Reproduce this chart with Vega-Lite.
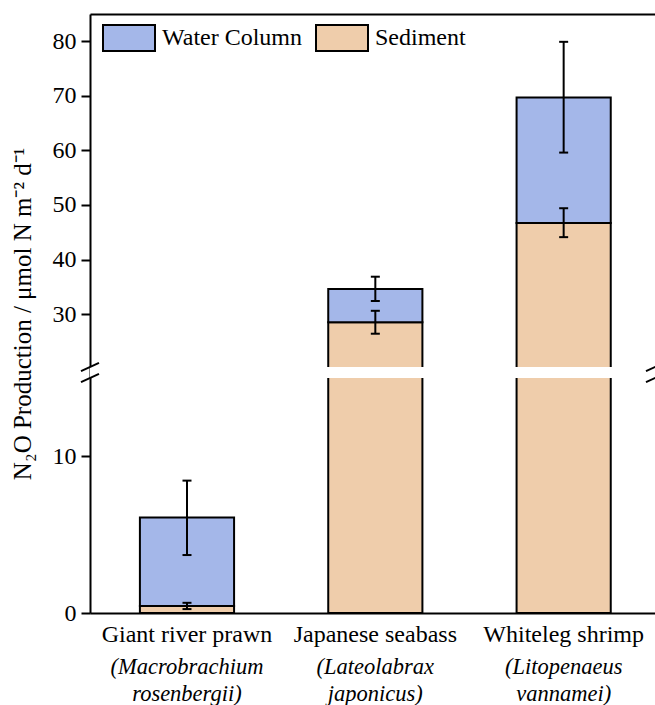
{
  "$schema": "https://vega.github.io/schema/vega-lite/v6.json",
  "width": 565,
  "height": 599,
  "autosize": {"type": "none"},
  "padding": {"left": 90, "top": 14, "right": 0, "bottom": 92},
  "config": {
    "font": "Liberation Serif, Times New Roman, serif",
    "view": {"stroke": null},
    "axis": {
      "labelFont": "Liberation Serif, Times New Roman, serif",
      "titleFont": "Liberation Serif, Times New Roman, serif",
      "domainColor": "black",
      "domainWidth": 2,
      "tickColor": "black",
      "tickWidth": 2,
      "labelColor": "black",
      "titleColor": "black",
      "labelFontSize": 24,
      "titleFontSize": 25,
      "titleFontWeight": "normal",
      "labelLimit": 300,
      "grid": false
    },
    "legend": {
      "labelFont": "Liberation Serif, Times New Roman, serif"
    }
  },
  "datasets": {
    "production": [
      {"species": "Giant river prawn", "latin": "(Macrobrachium rosenbergii)", "component": "Sediment", "start": 0, "end": 0.45, "lo": 0.25, "hi": 0.65},
      {"species": "Giant river prawn", "latin": "(Macrobrachium rosenbergii)", "component": "Water Column", "start": 0.45, "end": 6.1, "lo": 3.7, "hi": 8.45},
      {"species": "Japanese seabass", "latin": "(Lateolabrax japonicus)", "component": "Sediment", "start": 0, "end": 28.5, "lo": 26.4, "hi": 30.6},
      {"species": "Japanese seabass", "latin": "(Lateolabrax japonicus)", "component": "Water Column", "start": 28.5, "end": 34.6, "lo": 32.4, "hi": 36.85},
      {"species": "Whiteleg shrimp", "latin": "(Litopenaeus vannamei)", "component": "Sediment", "start": 0, "end": 46.7, "lo": 44.1, "hi": 49.4},
      {"species": "Whiteleg shrimp", "latin": "(Litopenaeus vannamei)", "component": "Water Column", "start": 46.7, "end": 69.7, "lo": 59.6, "hi": 79.9}
    ],
    "gap": [{"from": 15, "to": 20.3}],
    "axisBreak": [
      {"edge": "left", "at": 15},
      {"edge": "left", "at": 20.3},
      {"edge": "right", "at": 15},
      {"edge": "right", "at": 20.3}
    ]
  },
  "layer": [
    {
      "data": {"name": "production"},
      "mark": {"type": "bar", "stroke": "black", "strokeWidth": 2},
      "encoding": {
        "x": {
          "field": "species", "type": "nominal", "sort": null,
          "scale": {"paddingInner": 0.5, "paddingOuter": 0.25, "align": 0.53},
          "axis": {"orient": "bottom", "title": null, "ticks": false, "labelAngle": 0, "labelPadding": 9}
        },
        "y": {
          "field": "end", "type": "quantitative",
          "title": "N₂O Production / μmol N m⁻² d⁻¹",
          "scale": {"type": "linear", "domain": [0, 15, 20.3, 85], "range": [599, 364, 353, 0], "zero": false, "nice": false},
          "axis": {
            "values": [0, 10, 30, 40, 50, 60, 70, 80],
            "tickSize": 9,
            "labelPadding": 5,
            "titlePadding": 17
          }
        },
        "y2": {"field": "start"},
        "color": {
          "field": "component", "type": "nominal",
          "scale": {"domain": ["Water Column", "Sediment"], "range": ["#a4b7e9", "#efcdab"]},
          "legend": {
            "title": null,
            "orient": "none",
            "legendX": 12,
            "legendY": -3,
            "direction": "horizontal",
            "padding": 0,
            "symbolType": "M-1,-0.5H1V0.5H-1Z",
            "symbolSize": 2704,
            "symbolStrokeColor": "black",
            "symbolStrokeWidth": 2,
            "symbolOpacity": 1,
            "labelFontSize": 24,
            "labelColor": "black",
            "labelOffset": 6,
            "columnPadding": 9
          }
        }
      }
    },
    {
      "data": {"name": "production"},
      "mark": {"type": "rule", "color": "black", "strokeWidth": 2},
      "encoding": {
        "x": {
          "field": "latin", "type": "nominal", "sort": null,
          "scale": {"paddingInner": 0.5, "paddingOuter": 0.25, "align": 0.53},
          "axis": {
            "orient": "bottom", "title": null, "domain": false, "ticks": false, "labelAngle": 0,
            "labelFontStyle": "italic", "labelFontSize": 22.5, "labelExpr": "split(datum.label, ' ')",
            "labelLineHeight": 27, "labelPadding": 42
          }
        },
        "y": {"field": "lo", "type": "quantitative", "title": "N₂O Production / μmol N m⁻² d⁻¹"},
        "y2": {"field": "hi"}
      }
    },
    {
      "data": {"name": "production"},
      "mark": {"type": "tick", "color": "black", "size": 9, "thickness": 2, "opacity": 1},
      "encoding": {
        "x": {"field": "species", "type": "nominal", "sort": null,
          "scale": {"paddingInner": 0.5, "paddingOuter": 0.25, "align": 0.53}, "axis": null},
        "y": {"field": "lo", "type": "quantitative", "title": "N₂O Production / μmol N m⁻² d⁻¹"}
      }
    },
    {
      "data": {"name": "production"},
      "mark": {"type": "tick", "color": "black", "size": 9, "thickness": 2, "opacity": 1},
      "encoding": {
        "x": {"field": "species", "type": "nominal", "sort": null,
          "scale": {"paddingInner": 0.5, "paddingOuter": 0.25, "align": 0.53}, "axis": null},
        "y": {"field": "hi", "type": "quantitative", "title": "N₂O Production / μmol N m⁻² d⁻¹"}
      }
    },
    {
      "data": {"name": "gap"},
      "mark": {"type": "rect", "fill": "white"},
      "encoding": {
        "y": {"field": "from", "type": "quantitative", "title": "N₂O Production / μmol N m⁻² d⁻¹"},
        "y2": {"field": "to"}
      }
    },
    {
      "data": {"name": "axisBreak"},
      "mark": {"type": "point", "shape": "M-1,0.45L1,-0.45", "size": 324, "filled": false, "stroke": "black", "strokeWidth": 2, "opacity": 1},
      "encoding": {
        "x": {
          "field": "edge", "type": "nominal",
          "scale": {"type": "point", "padding": 0, "domain": ["left", "right"]},
          "axis": {"orient": "top", "title": null, "labels": false, "ticks": false, "domain": true}
        },
        "y": {"field": "at", "type": "quantitative", "title": "N₂O Production / μmol N m⁻² d⁻¹"}
      }
    }
  ],
  "resolve": {"scale": {"x": "independent"}, "axis": {"x": "independent"}}
}
